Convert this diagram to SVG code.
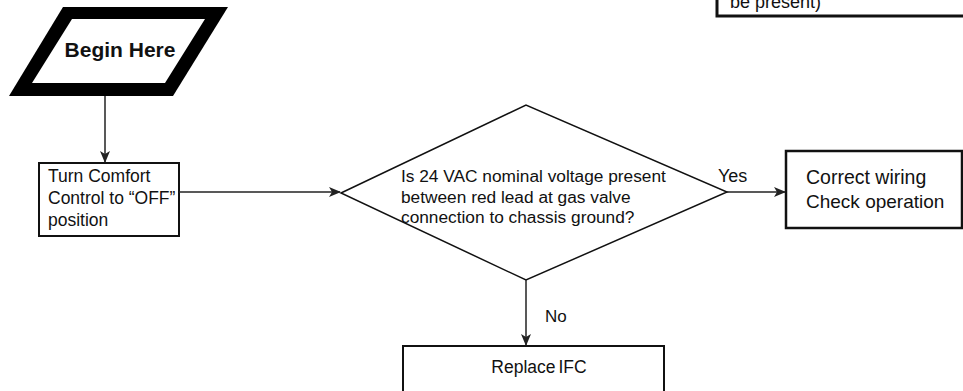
<svg xmlns="http://www.w3.org/2000/svg" width="963" height="391" viewBox="0 0 963 391">
<defs>
<style>
text{font-family:"Liberation Sans",Arial,sans-serif;fill:#111}
.box{fill:#fff;stroke:#111;stroke-width:2}
.conn{stroke:#222;stroke-width:1.5;fill:none}
</style>
<marker id="arr" markerWidth="12" markerHeight="10" refX="11" refY="5" orient="auto" markerUnits="userSpaceOnUse">
<path d="M0,0 L12,5 L0,10 L3,5 Z" fill="#222"/>
</marker>
</defs>
<rect width="963" height="391" fill="#fff"/>
<g id="note">
<rect x="717" y="-40" width="260" height="56" fill="#fff" stroke="#111" stroke-width="3"/>
<text x="730" y="8" font-size="18">be present)</text>
</g>
<g id="begin">
<polygon points="63,7 228,7 173,96 9,96" fill="#000"/>
<polygon points="72,19 205,19 165,83 32,83" fill="#fff"/>
<text x="120" y="57" font-size="21" font-weight="bold" text-anchor="middle">Begin Here</text>
</g>
<g id="turn">
<rect class="box" x="39" y="163" width="140" height="73"/>
<text x="48" y="182" font-size="17.5">Turn Comfort</text>
<text x="48" y="204" font-size="17.5">Control to “OFF”</text>
<text x="48" y="226" font-size="17.5">position</text>
</g>
<g id="decision">
<polygon points="341,193 526,105 727,192 526,280" fill="#fff" stroke="#111" stroke-width="1.5"/>
<text x="401" y="182" font-size="17.3">Is 24 VAC nominal voltage present</text>
<text x="401" y="203" font-size="17.3">between red lead at gas valve</text>
<text x="401" y="223" font-size="17.3">connection to chassis ground?</text>
</g>
<g id="correct">
<rect x="786" y="151" width="176" height="77" fill="#fff" stroke="#111" stroke-width="2.5"/>
<text x="806" y="184" font-size="19.5">Correct wiring</text>
<text x="806" y="208" font-size="19">Check operation</text>
</g>
<g id="replace">
<rect class="box" x="403" y="346" width="261" height="60"/>
<text x="539" y="373" font-size="17.5" text-anchor="middle" word-spacing="-2">Replace IFC</text>
</g>
<g id="connectors">
<line class="conn" x1="105" y1="96" x2="105" y2="162" marker-end="url(#arr)"/>
<line class="conn" x1="179" y1="192" x2="340" y2="192" marker-end="url(#arr)"/>
<line class="conn" x1="727" y1="192" x2="785" y2="192" marker-end="url(#arr)"/>
<line class="conn" x1="526" y1="280" x2="526" y2="345" marker-end="url(#arr)"/>
<text x="718" y="182" font-size="18">Yes</text>
<text x="545" y="322" font-size="17">No</text>
</g>
</svg>
